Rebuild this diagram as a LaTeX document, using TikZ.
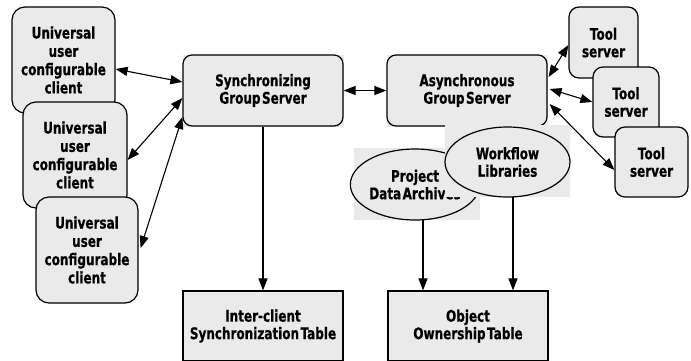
\documentclass[tikz,border=0pt]{standalone}
\usepackage{fontspec}
\newfontfamily\lblfont[FakeStretch=0.75,WordSpace=0.35,BoldFeatures={FakeBold=0.6}]{DejaVu Sans}
\usetikzlibrary{arrows.meta,shapes.geometric}

\definecolor{boxgray}{RGB}{234,234,234}

\begin{document}
\begin{tikzpicture}[x=1pt,y=-1pt,
  lbl/.style={font={\lblfont\bfseries\fontsize{16}{17.5}\selectfont}, align=center, inner sep=0pt, text=black},
  client/.style={lbl, draw, line width=1.2pt, fill=boxgray, rounded corners=13pt,
    font={\lblfont\bfseries\fontsize{16}{18.3}\selectfont}},
  server/.style={lbl, draw, line width=1.2pt, fill=boxgray, rounded corners=9pt,
    minimum width=160, minimum height=71},
  tool/.style={lbl, draw, line width=1.2pt, fill=boxgray, rounded corners=10pt},
  store/.style={lbl, draw, line width=1.2pt, fill=boxgray, ellipse},
  table/.style={lbl, draw, line width=1.2pt, fill=boxgray, minimum width=160, minimum height=70},
  bgrect/.style={fill=boxgray, inner sep=0pt},
  arr/.style={line width=1.1pt, -{Triangle[length=12pt,width=9pt]}},
  darr/.style={line width=1.1pt, {Triangle[length=12pt,width=9pt]}-{Triangle[length=12pt,width=9pt]}}
]
\clip (0,0) rectangle (691,360);
\fill[white] (0,0) rectangle (691,360);

% clients, each overlapping the one above
\node[client, minimum width=103, minimum height=106] (c1) at (63.5,60)
  {Universal\\user\\configurable\\client};
\node[client, minimum width=104, minimum height=106] (c2) at (75,155)
  {Universal\\user\\configurable\\client};
\node[client, minimum width=102, minimum height=106] (c3) at (87,250)
  {Universal\\user\\configurable\\client};

% group servers on their grey backing
\node[bgrect, minimum width=161, minimum height=72] (syncbg) at (263,90.5) {};
\node[server] (sync) at (263,90.5) {Synchronizing\\Group Server};
\node[bgrect, minimum width=161, minimum height=72] (asyncbg) at (467,90.5) {};
\node[server] (async) at (467,90.5) {Asynchronous\\Group Server};

% tool servers
\node[tool, minimum width=69, minimum height=71] (t1) at (603.5,42.5) {Tool\\server};
\node[tool, minimum width=66, minimum height=70] (t2) at (626,102) {Tool\\server};
\node[tool, minimum width=73, minimum height=70] (t3) at (651.5,162) {Tool\\server};

% archives and libraries
\node[bgrect, minimum width=126, minimum height=72] (projbg) at (417,184) {};
\node[store, minimum width=124, minimum height=71] (proj) at (415,184.5) {Project\\Data Archives};
\node[bgrect, minimum width=125, minimum height=72] (wfbg) at (507.5,161) {};
\node[store, minimum width=125, minimum height=70] (wf) at (507.5,162) {Workflow\\Libraries};

% tables
\node[table] (ict) at (263,326) {Inter-client\\Synchronization Table};
\node[table] (obj) at (468,326) {Object\\Ownership Table};

% connectors
\draw[darr] ([yshift=-9pt]c1.east) -- ([yshift=8.5pt]sync.west);
\draw[darr] ([yshift=-5pt]c2.east) -- ([yshift=-7.5pt]sync.west);
\draw[darr] ([yshift=2pt,xshift=2pt]c3.east) -- ([yshift=-26.5pt]sync.west);
\draw[darr] (sync.east) -- (async.west);
\draw[arr] (sync.south) -- (ict.north);
\draw[darr] ([yshift=13.5pt,xshift=1pt]async.east) -- ([yshift=-2.5pt]t1.west);
\draw[darr] ([yshift=1.5pt,xshift=2pt]async.east) -- (t2.west);
\draw[darr] ([yshift=-13.5pt,xshift=2pt]async.east) -- ([yshift=-8pt]t3.west);
\draw[arr] ([xshift=6pt]projbg.south) -- ([xshift=6pt]projbg.south |- obj.north);
\draw[arr] ([xshift=5.5pt]wfbg.south) -- ([xshift=5.5pt]wfbg.south |- obj.north);
\end{tikzpicture}
\end{document}
